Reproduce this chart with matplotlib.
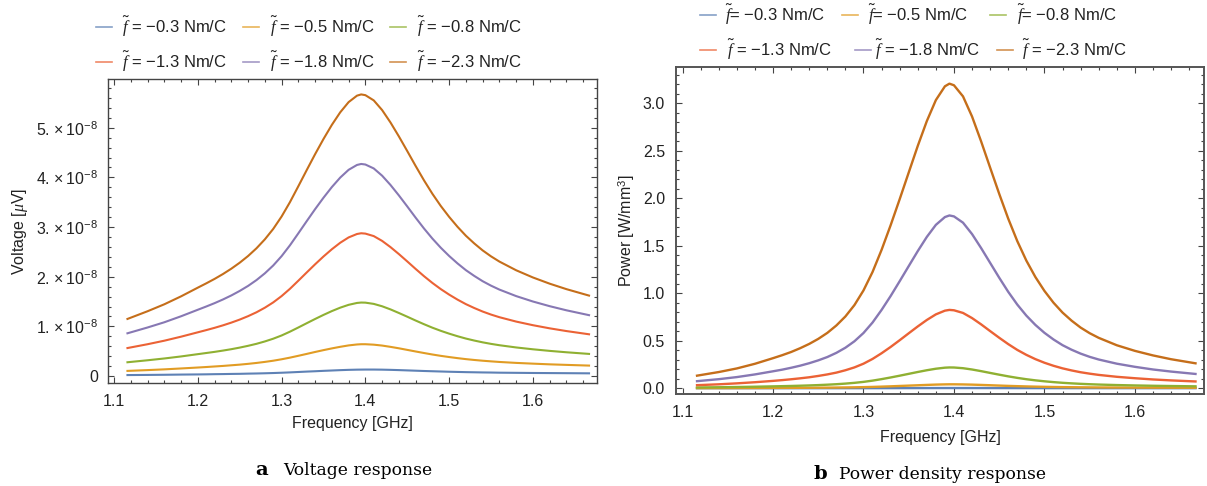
import matplotlib
matplotlib.use("Agg")
import matplotlib.pyplot as plt
from matplotlib.lines import Line2D
from matplotlib.ticker import MultipleLocator, FixedLocator, FixedFormatter

plt.rcParams["font.family"] = ["Liberation Sans", "DejaVu Sans"]
plt.rcParams["mathtext.fontset"] = "custom"
plt.rcParams["mathtext.rm"] = "Liberation Sans"
plt.rcParams["mathtext.it"] = "Liberation Serif:italic"
plt.rcParams["mathtext.bf"] = "Liberation Sans:bold"

# frequency samples [GHz]
freq = [1.116, 1.14, 1.16, 1.18, 1.20, 1.21, 1.22, 1.23, 1.24, 1.25, 1.26, 1.27, 1.28, 1.29,
        1.30, 1.31, 1.32, 1.33, 1.34, 1.35, 1.36, 1.37, 1.38, 1.39, 1.395, 1.40, 1.41, 1.42,
        1.43, 1.44, 1.45, 1.46, 1.47, 1.48, 1.49, 1.50, 1.51, 1.52, 1.53, 1.54, 1.55, 1.56,
        1.58, 1.60, 1.62, 1.64, 1.667]

f_labels = ["0.3", "0.5", "0.8", "1.3", "1.8", "2.3"]

# voltage, in units of 1e-8 uV
volt_03 = [0.020, 0.023, 0.026, 0.030, 0.033, 0.035, 0.038, 0.040, 0.043, 0.045, 0.049, 0.052, 0.056, 0.061,
           0.067, 0.074, 0.082, 0.090, 0.097, 0.105, 0.112, 0.119, 0.125, 0.129, 0.130, 0.131, 0.131, 0.129,
           0.125, 0.120, 0.114, 0.108, 0.102, 0.097, 0.092, 0.087, 0.083, 0.079, 0.076, 0.073, 0.071, 0.068,
           0.065, 0.062, 0.060, 0.058, 0.055]
volt_05 = [0.104, 0.120, 0.135, 0.153, 0.172, 0.182, 0.193, 0.204, 0.217, 0.230, 0.246, 0.264, 0.285, 0.309,
           0.338, 0.371, 0.408, 0.446, 0.485, 0.522, 0.557, 0.589, 0.617, 0.636, 0.641, 0.641, 0.632, 0.614,
           0.588, 0.559, 0.527, 0.495, 0.464, 0.434, 0.407, 0.383, 0.361, 0.341, 0.324, 0.309, 0.296, 0.284,
           0.265, 0.250, 0.236, 0.225, 0.211]
volt_08 = [0.278, 0.318, 0.354, 0.395, 0.441, 0.464, 0.487, 0.513, 0.541, 0.573, 0.609, 0.649, 0.697, 0.752,
           0.817, 0.894, 0.978, 1.064, 1.149, 1.231, 1.308, 1.377, 1.434, 1.472, 1.480, 1.478, 1.453, 1.405,
           1.342, 1.270, 1.195, 1.118, 1.044, 0.974, 0.911, 0.854, 0.802, 0.755, 0.715, 0.679, 0.648, 0.621,
           0.576, 0.539, 0.507, 0.479, 0.446]
volt_13 = [0.564, 0.641, 0.712, 0.793, 0.881, 0.925, 0.971, 1.021, 1.076, 1.137, 1.206, 1.284, 1.376, 1.483,
           1.610, 1.757, 1.920, 2.086, 2.250, 2.407, 2.553, 2.684, 2.791, 2.860, 2.875, 2.868, 2.818, 2.721,
           2.596, 2.456, 2.308, 2.157, 2.011, 1.875, 1.751, 1.640, 1.539, 1.448, 1.370, 1.299, 1.238, 1.185,
           1.097, 1.024, 0.961, 0.906, 0.841]
volt_18 = [0.861, 0.978, 1.083, 1.204, 1.335, 1.400, 1.468, 1.542, 1.623, 1.714, 1.815, 1.932, 2.068, 2.226,
           2.414, 2.633, 2.874, 3.119, 3.360, 3.590, 3.805, 3.996, 4.152, 4.250, 4.270, 4.259, 4.180, 4.034,
           3.847, 3.637, 3.415, 3.189, 2.971, 2.768, 2.584, 2.418, 2.268, 2.132, 2.016, 1.910, 1.820, 1.741,
           1.610, 1.501, 1.407, 1.324, 1.226]
volt_23 = [1.150, 1.305, 1.445, 1.605, 1.780, 1.866, 1.956, 2.054, 2.162, 2.282, 2.417, 2.572, 2.752, 2.962,
           3.212, 3.502, 3.822, 4.147, 4.467, 4.772, 5.057, 5.310, 5.515, 5.645, 5.670, 5.655, 5.550, 5.355,
           5.105, 4.825, 4.530, 4.230, 3.940, 3.670, 3.425, 3.205, 3.005, 2.825, 2.670, 2.530, 2.410, 2.305,
           2.130, 1.985, 1.860, 1.750, 1.620]

# power density [W/mm^3]
pow_03 = [0.00004, 0.00005, 0.00007, 0.00009, 0.00011, 0.00012, 0.00014, 0.00016, 0.00018, 0.00020, 0.00024, 0.00027,
          0.00031, 0.00037, 0.00045, 0.00055, 0.00067, 0.00081, 0.00094, 0.00110, 0.00125, 0.00141, 0.00156, 0.00166,
          0.00169, 0.00171, 0.00171, 0.00166, 0.00156, 0.00144, 0.00130, 0.00116, 0.00104, 0.00094, 0.00084, 0.00075,
          0.00069, 0.00062, 0.00058, 0.00053, 0.00050, 0.00046, 0.00042, 0.00038, 0.00036, 0.00034, 0.00030]
pow_05 = [0.0011, 0.0014, 0.0018, 0.0023, 0.0030, 0.0033, 0.0037, 0.0041, 0.0047, 0.0053, 0.0060, 0.0069, 0.0081, 0.0095,
          0.0114, 0.0137, 0.0166, 0.0198, 0.0235, 0.0272, 0.0309, 0.0346, 0.0380, 0.0403, 0.0410, 0.0410, 0.0398, 0.0376,
          0.0345, 0.0312, 0.0277, 0.0244, 0.0215, 0.0188, 0.0165, 0.0146, 0.0130, 0.0116, 0.0105, 0.0095, 0.0087, 0.0080,
          0.0070, 0.0062, 0.0056, 0.0050, 0.0044]
pow_08 = [0.0077, 0.0101, 0.0125, 0.0156, 0.0194, 0.0215, 0.0236, 0.0262, 0.0292, 0.0327, 0.0370, 0.0420, 0.0484, 0.0564,
          0.0665, 0.0797, 0.0954, 0.1129, 0.1316, 0.1511, 0.1706, 0.1890, 0.2050, 0.2160, 0.2184, 0.2178, 0.2105, 0.1968,
          0.1796, 0.1608, 0.1424, 0.1246, 0.1087, 0.0946, 0.0827, 0.0727, 0.0641, 0.0568, 0.0510, 0.0460, 0.0419, 0.0384,
          0.0331, 0.0290, 0.0256, 0.0229, 0.0198]
pow_13 = [0.032, 0.041, 0.051, 0.063, 0.077, 0.085, 0.094, 0.104, 0.115, 0.129, 0.145, 0.164, 0.189, 0.219,
          0.258, 0.308, 0.368, 0.434, 0.505, 0.578, 0.650, 0.718, 0.777, 0.816, 0.824, 0.820, 0.792, 0.738,
          0.672, 0.601, 0.531, 0.464, 0.403, 0.351, 0.306, 0.268, 0.236, 0.209, 0.187, 0.168, 0.153, 0.140,
          0.120, 0.105, 0.092, 0.082, 0.071]
pow_18 = [0.074, 0.095, 0.117, 0.145, 0.178, 0.195, 0.215, 0.237, 0.263, 0.293, 0.328, 0.372, 0.426, 0.494,
          0.581, 0.691, 0.824, 0.970, 1.126, 1.285, 1.443, 1.592, 1.719, 1.801, 1.818, 1.808, 1.742, 1.622,
          1.475, 1.319, 1.163, 1.014, 0.880, 0.764, 0.666, 0.583, 0.513, 0.453, 0.405, 0.364, 0.330, 0.302,
          0.258, 0.225, 0.197, 0.175, 0.150]
pow_23 = [0.132, 0.170, 0.208, 0.257, 0.316, 0.347, 0.381, 0.421, 0.466, 0.519, 0.582, 0.660, 0.755, 0.875,
          1.029, 1.223, 1.456, 1.715, 1.989, 2.270, 2.550, 2.811, 3.032, 3.177, 3.205, 3.188, 3.071, 2.859,
          2.598, 2.321, 2.046, 1.784, 1.548, 1.343, 1.170, 1.024, 0.900, 0.796, 0.711, 0.638, 0.579, 0.530,
          0.452, 0.393, 0.345, 0.305, 0.262]

volts = [volt_03, volt_05, volt_08, volt_13, volt_18, volt_23]
powers = [pow_03, pow_05, pow_08, pow_13, pow_18, pow_23]

colors = ["#5E81B5", "#E19C24", "#8FB032", "#EB6235", "#8778B3", "#C56E1A"]
frame_col = "#444444"


def style_frame(ax):
    for sp in ax.spines.values():
        sp.set_color(frame_col)
        sp.set_linewidth(1.0)
    ax.tick_params(which="both", direction="in", top=True, right=True,
                   colors=frame_col, labelcolor="#222222", labelsize=11.5, width=0.8)
    ax.tick_params(which="major", length=4)
    ax.tick_params(which="minor", length=2.2)
    ax.xaxis.set_major_locator(MultipleLocator(0.1))
    ax.xaxis.set_minor_locator(MultipleLocator(0.02))
    ax.tick_params(axis="x", pad=8)
    ax.tick_params(axis="y", pad=7)
    ax.set_xlim(1.0928, 1.6765)


fig = plt.figure(figsize=(12.07, 4.86), dpi=100)
fig.patch.set_facecolor("white")

# a: voltage
ax1 = fig.add_axes([0.0895, 0.2119, 0.4051, 0.6255])
for vals, c in zip(volts, colors):
    ax1.plot(freq, vals, color=c, lw=1.5)
style_frame(ax1)
ax1.set_ylim(-0.14, 5.98)
ax1.yaxis.set_major_locator(FixedLocator([0, 1, 2, 3, 4, 5]))
ax1.yaxis.set_major_formatter(FixedFormatter(
    ["0"] + [r"$\mathregular{%d.\times10^{-8}}$" % k for k in range(1, 6)]))
ax1.yaxis.set_minor_locator(MultipleLocator(0.2))
ax1.set_xlabel("Frequency [GHz]", fontsize=11.5, color="#222222")
ax1.set_ylabel(r"Voltage [$\mu$V]", fontsize=11.5, color="#222222")
ax1.xaxis.set_label_coords(0.5, -0.108)
ax1.yaxis.set_label_coords(-0.16, 0.5)

# b: power density
ax2 = fig.add_axes([0.5601, 0.1893, 0.4375, 0.6728])
for vals, c in zip(powers, colors):
    ax2.plot(freq, vals, color=c, lw=1.7)
style_frame(ax2)
for sp in ax2.spines.values():
    sp.set_linewidth(1.4)
    sp.set_color("#555555")
ax2.set_ylim(-0.061, 3.38)
ax2.yaxis.set_major_locator(MultipleLocator(0.5))
ax2.yaxis.set_minor_locator(MultipleLocator(0.1))
ax2.yaxis.set_major_formatter(plt.FuncFormatter(lambda v, p: "%.1f" % v))
ax2.tick_params(axis="both", pad=8)
ax2.set_xlabel("Frequency [GHz]", fontsize=11.5, color="#222222")
ax2.set_ylabel(r"Power [W/mm$^\mathregular{3}$]", fontsize=11.5, color="#222222")
ax2.xaxis.set_label_coords(0.5, -0.11)
ax2.yaxis.set_label_coords(-0.074, 0.5)

# legends drawn by hand (two rows of three)
W, H = 1207.0, 486.0


def legend_item(x_sw, x_txt, y, color, label):
    fig.add_artist(Line2D([x_sw / W, (x_sw + 16) / W], [1 - y / H, 1 - y / H],
                          color=color, lw=1.2, alpha=0.75, transform=fig.transFigure))
    fig.text(x_txt / W, 1 - y / H, label, fontsize=12, va="center", ha="left", color="#222222")


left_sw = [96, 243, 390]
left_tx = [122, 270, 417]
for i in range(6):
    row, col = divmod(i, 3)
    legend_item(left_sw[col], left_tx[col], 27 + 35 * row, colors[i],
                r"$\tilde{f}$ = $-$%s Nm/C" % f_labels[i])

right_sw = [[700, 842, 990], [700, 855, 997]]
right_tx = [[725, 868, 1017], [727, 875, 1022]]
for i in range(6):
    row, col = divmod(i, 3)
    lab = (r"$\tilde{f}$= $-$%s Nm/C" if row == 0 else r"$\tilde{f}$ = $-$%s Nm/C") % f_labels[i]
    legend_item(right_sw[row][col], right_tx[row][col], 15 + 35 * row, colors[i], lab)

# captions
fig.text(255 / W, 1 - 475 / H, "a", fontsize=14, weight="bold", family="DejaVu Serif", va="baseline")
fig.text(283 / W, 1 - 475 / H, "Voltage response", fontsize=12.3, family="DejaVu Serif", va="baseline")
fig.text(813 / W, 1 - 479 / H, "b", fontsize=14, weight="bold", family="DejaVu Serif", va="baseline")
fig.text(839 / W, 1 - 479 / H, "Power density response", fontsize=12.3, family="DejaVu Serif", va="baseline")

fig.savefig("out.png", dpi=100)
